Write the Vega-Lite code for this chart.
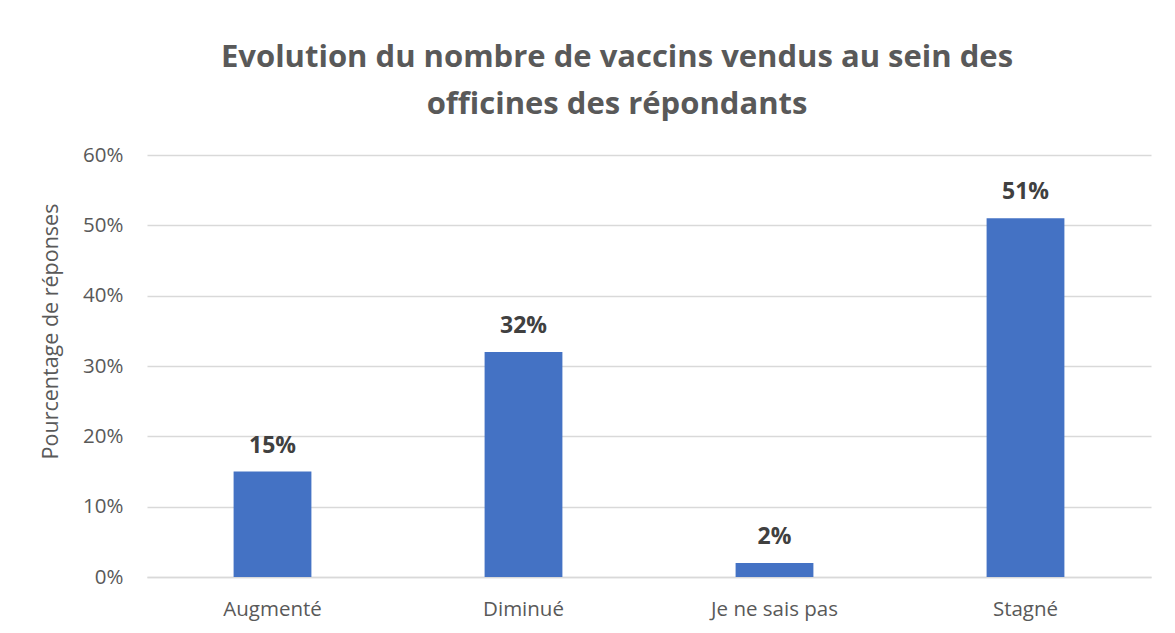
{
  "$schema": "https://vega.github.io/schema/vega-lite/v6.json",
  "width": 1004,
  "height": 422,
  "autosize": {"type": "none"},
  "padding": {"left": 147, "top": 155, "right": 24, "bottom": 56},
  "background": "white",
  "title": {
    "text": ["Evolution du nombre de vaccins vendus au sein des", "officines des répondants"],
    "font": "Open Sans",
    "fontSize": 31,
    "fontWeight": "bold",
    "color": "#595959",
    "anchor": "middle",
    "dx": -32,
    "lineHeight": 47,
    "offset": 24
  },
  "data": {
    "values": [
      {"categorie": "Augmenté", "pct": 0.15},
      {"categorie": "Diminué", "pct": 0.32},
      {"categorie": "Je ne sais pas", "pct": 0.02},
      {"categorie": "Stagné", "pct": 0.51}
    ]
  },
  "encoding": {
    "x": {
      "field": "categorie",
      "type": "nominal",
      "sort": null,
      "scale": {"paddingInner": 0.69, "paddingOuter": 0.345},
      "axis": {
        "title": null,
        "labelAngle": 0,
        "labelFont": "Open Sans",
        "labelFontSize": 20.5,
        "labelColor": "#595959",
        "labelBaseline": "alphabetic",
        "labelPadding": 38,
        "ticks": false,
        "domainColor": "#d9d9d9",
        "domainWidth": 1.5
      }
    },
    "y": {
      "field": "pct",
      "type": "quantitative",
      "scale": {"domain": [0, 0.6], "nice": false},
      "axis": {
        "title": "Pourcentage de réponses",
        "titleFont": "Open Sans",
        "titleFontSize": 21.5,
        "titleFontWeight": "normal",
        "titleColor": "#595959",
        "titleY": 176,
        "titleX": -85,
        "values": [0, 0.1, 0.2, 0.3, 0.4, 0.5, 0.6],
        "format": ".0%",
        "labelFont": "Open Sans",
        "labelFontSize": 20.5,
        "labelColor": "#595959",
        "labelPadding": 24,
        "ticks": false,
        "domain": false,
        "gridColor": "#d9d9d9",
        "gridWidth": 1.5
      }
    }
  },
  "layer": [
    {"mark": {"type": "bar", "color": "#4472C4"}},
    {
      "mark": {
        "type": "text",
        "font": "Open Sans",
        "fontSize": 23,
        "fontWeight": "bold",
        "color": "#404040",
        "baseline": "alphabetic",
        "dy": -19
      },
      "encoding": {
        "text": {"field": "pct", "type": "quantitative", "format": ".0%"}
      }
    }
  ],
  "config": {"view": {"stroke": null}}
}
